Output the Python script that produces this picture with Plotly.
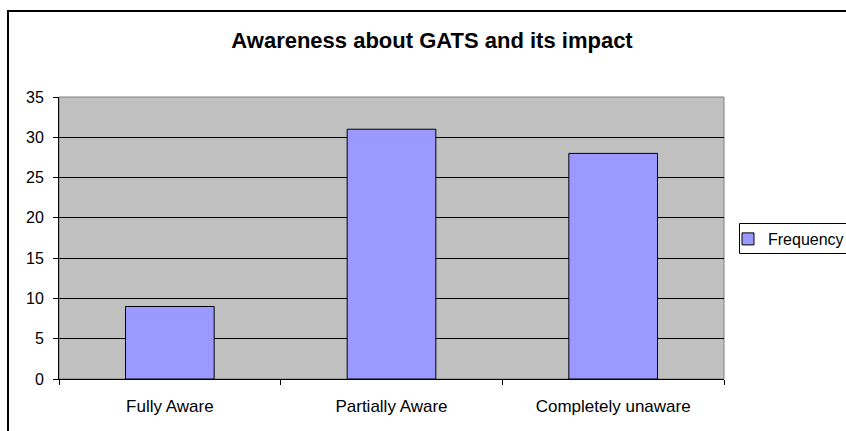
import plotly.graph_objects as go

categories = ["Fully Aware", "Partially Aware", "Completely unaware"]
frequency = [9, 31, 28]
series_name = "Frequency"
title_text = "Awareness about GATS and its impact"

FONT = "Liberation Sans, Arial, sans-serif"

fig = go.Figure()
fig.add_trace(go.Bar(
    x=categories, y=frequency, name=series_name,
    marker=dict(color="#9999FF", line=dict(color="black", width=1)),
    showlegend=True,
))

W, H = 846, 431
L, R, T, B = 59, 122, 97, 52
PW, PH = W - L - R, H - T - B

def px_x(x):
    return (x - L) / PW

def px_y(y):
    return (H - B - y) / PH

fig.update_layout(
    width=W, height=H,
    margin=dict(l=L, r=R, t=T, b=B, pad=0, autoexpand=False),
    paper_bgcolor="white",
    plot_bgcolor="#C0C0C0",
    font=dict(family=FONT, size=17, color="black"),
    title=dict(text="<b>" + title_text + "</b>", x=432 / W, xref="container",
               xanchor="center", y=1 - 40 / H, yref="container", yanchor="middle",
               font=dict(family=FONT, size=22, color="black")),
    bargap=0.6,
    showlegend=True,
    legend=dict(x=px_x(728), y=px_y(239), xanchor="left", yanchor="middle",
                borderwidth=0, bgcolor="rgba(0,0,0,0)",
                font=dict(family=FONT, size=16, color="black"),
                itemwidth=30),
    xaxis=dict(showline=True, linecolor="black", linewidth=1,
               ticks="outside", tickson="boundaries", ticklen=5, tickcolor="black",
               showgrid=False, tickfont=dict(size=17), ticklabelstandoff=12),
    yaxis=dict(range=[0, 35], dtick=5, showline=True, linecolor="black", linewidth=1,
               ticks="outside", ticklen=5, tickcolor="black",
               showgrid=True, gridcolor="black", gridwidth=1,
               zeroline=False, tickfont=dict(size=16), ticklabelstandoff=6),
)

# plot area border (gray)
fig.add_shape(type="rect", xref="paper", yref="paper", x0=0, x1=1, y0=0, y1=1,
              line=dict(color="#808080", width=1), layer="below")
# legend box
fig.add_shape(type="rect", xref="paper", yref="paper",
              x0=px_x(739.5), x1=px_x(900), y0=px_y(253.5), y1=px_y(223.5),
              line=dict(color="black", width=1), fillcolor="white", layer="above")
# chart outer border
fig.add_shape(type="rect", xref="paper", yref="paper",
              x0=px_x(8), x1=px_x(1000), y0=px_y(600), y1=px_y(11),
              line=dict(color="black", width=2), fillcolor="rgba(0,0,0,0)")

fig.write_html("out.html", config={"displayModeBar": False},
               post_script="document.body.style.margin='0';document.body.style.overflow='hidden';")
